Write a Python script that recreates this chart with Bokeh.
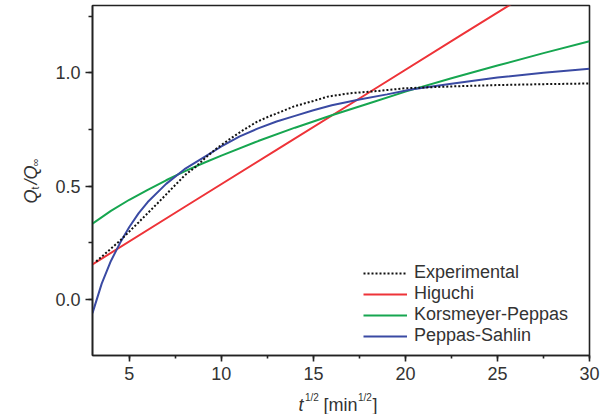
from bokeh.plotting import figure
from bokeh.models import Range1d, SingleIntervalTicker, PrintfTickFormatter, Legend, LegendItem, Label
from bokeh.embed import file_html
from bokeh.resources import INLINE
import math

# ---- data ----
exp_x = [3.2, 3.8, 4.5, 5.05, 5.5, 6.05, 6.77, 7.4, 8.04, 8.6, 9.2, 9.8, 10.5, 11.2, 11.96, 12.6, 13.23, 13.95, 15.0, 15.77, 17.0, 18.5, 20.0, 22.5, 25.0, 27.5, 30.0]
exp_y = [0.168, 0.21, 0.26, 0.304, 0.34, 0.385, 0.444, 0.497, 0.55, 0.585, 0.63, 0.67, 0.71, 0.748, 0.785, 0.808, 0.828, 0.852, 0.876, 0.895, 0.91, 0.92, 0.932, 0.94, 0.946, 0.95, 0.953]

hig_x = [3.0, 8.0, 13.0, 18.0, 23.0, 28.0]
hig_y = [0.155, 0.408, 0.66, 0.912, 1.165, 1.417]

kp_x = [3.0, 4.0, 5.0, 6.0, 7.0, 8.0, 9.0, 10.0, 12.0, 14.0, 16.0, 18.0, 20.0, 22.5, 25.0, 27.5, 30.0]
kp_y = [0.335, 0.391, 0.44, 0.484, 0.526, 0.565, 0.601, 0.635, 0.699, 0.758, 0.813, 0.865, 0.917, 0.976, 1.032, 1.087, 1.139]

ps_x = [3.0, 3.5, 4.0, 4.5, 5.0, 5.5, 6.0, 7.0, 8.0, 9.0, 10.0, 11.0, 12.0, 13.0, 14.0, 15.0, 16.0, 17.5, 19.0, 20.3, 22.5, 25.0, 27.5, 30.0]
ps_y = [-0.06, 0.07, 0.17, 0.25, 0.32, 0.38, 0.43, 0.51, 0.575, 0.625, 0.675, 0.72, 0.755, 0.785, 0.81, 0.835, 0.857, 0.882, 0.905, 0.926, 0.952, 0.979, 1.0, 1.018]

legend_labels = ["Experimental", "Higuchi", "Korsmeyer-Peppas", "Peppas-Sahlin"]

FONT = "Liberation Sans"
TXT = "#333333"
AX = "#222222"
NB = "\u00a0"

p = figure(width=606, height=414, output_backend="svg", toolbar_location=None,
           x_range=Range1d(3, 30), y_range=Range1d(-0.247, 1.297),
           min_border_left=92, min_border_right=17, min_border_top=5, min_border_bottom=59)
p.background_fill_color = "white"
p.border_fill_color = "white"
p.grid.visible = False
p.outline_line_color = AX
p.outline_line_width = 1.6

p.xaxis.ticker = SingleIntervalTicker(interval=5, num_minor_ticks=2)
p.yaxis.ticker = SingleIntervalTicker(interval=0.5, num_minor_ticks=2)
p.yaxis.formatter = PrintfTickFormatter(format="%.1f")
for ax in (p.xaxis, p.yaxis):
    ax.axis_line_color = AX
    ax.axis_line_width = 1.6
    ax.major_tick_line_color = AX
    ax.major_tick_line_width = 1.6
    ax.minor_tick_line_color = AX
    ax.minor_tick_line_width = 1.6
    ax.major_tick_in = 0
    ax.minor_tick_in = 0
    ax.major_label_text_font = FONT
    ax.major_label_text_font_size = "18px"
    ax.major_label_text_color = TXT
p.xaxis.major_tick_out = 6
p.xaxis.minor_tick_out = 3
p.xaxis.major_label_standoff = 5
p.yaxis.major_tick_out = 7
p.yaxis.minor_tick_out = 4
p.yaxis.major_label_standoff = 5

r_h = p.line(hig_x, hig_y, line_color="#ee3338", line_width=2)
r_k = p.line(kp_x, kp_y, line_color="#16a650", line_width=2)
r_p = p.line(ps_x, ps_y, line_color="#3a4aa3", line_width=2)
r_e = p.line(exp_x, exp_y, line_color="#111111", line_width=2, line_dash="2 2")

legend = Legend(items=[LegendItem(label=legend_labels[0], renderers=[r_e]),
                       LegendItem(label=legend_labels[1], renderers=[r_h]),
                       LegendItem(label=legend_labels[2], renderers=[r_k]),
                       LegendItem(label=legend_labels[3], renderers=[r_p])],
                location=(271, 9), padding=0, margin=0, spacing=0,
                glyph_width=44, glyph_height=18, label_height=18, label_standoff=7,
                border_line_color=None, background_fill_alpha=0,
                label_text_font=FONT, label_text_font_size="18px", label_text_color=TXT)
p.add_layout(legend)

def lab(text, x, y, size, side, italic=False, angle=0.0):
    # canvas pixel coordinates (origin top-left); placed in a side panel so it is not clipped
    p.add_layout(Label(x=x, y=y, x_units="canvas", y_units="canvas", text=text,
                       text_font=FONT, text_font_size=size, text_color=TXT,
                       text_font_style="italic" if italic else "normal",
                       text_align="left", text_baseline="alphabetic", angle=angle), side)

# x axis label: t^{1/2} [min^{1/2}]
lab("t", 298, 404, "18px", "left", italic=True)
lab("1/2", 304.5, 397, "10px", "left")
lab("[min" + NB * 3 + "]", 323, 404, "18px", "below")
lab("1/2", 357.5, 397, "10px", "right")

# y axis label: Q_t / Q_inf (rotated)
A = math.pi / 2
lab("Q" + NB + "/Q", 30, 203, "18px", "left", italic=True, angle=A)
lab("t" + NB * 7 + "\u221e", 34, 189, "10.5px", "left", angle=A)

open("out.html", "w").write(file_html(p, INLINE))
